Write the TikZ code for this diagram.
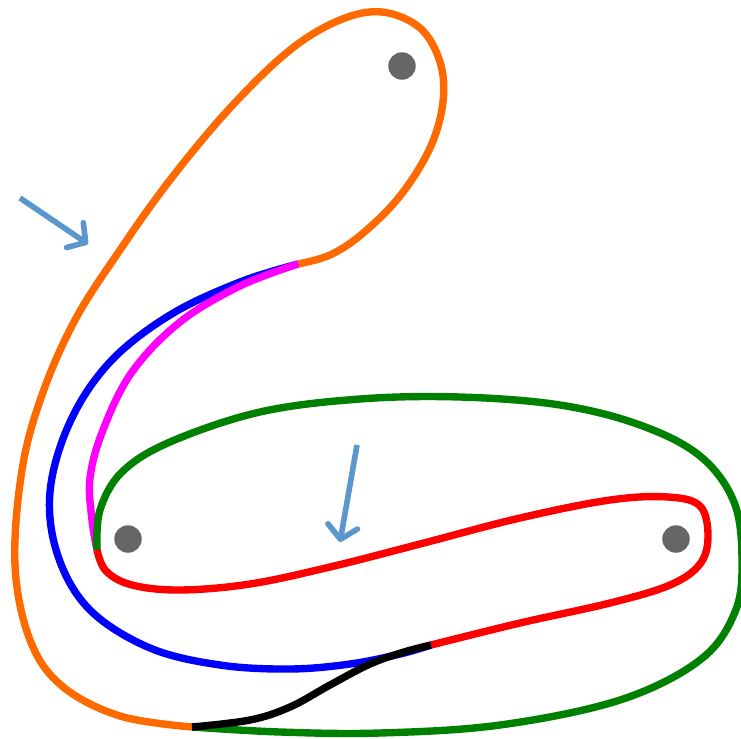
\documentclass[tikz,border=0pt]{standalone}
\usepackage{tikz}
\usetikzlibrary{arrows.meta}
\usepackage{xcolor}
\definecolor{LoopOrange}{HTML}{FF6A00}
\definecolor{LoopGreen}{HTML}{008000}
\definecolor{LoopBlue}{HTML}{0000FF}
\definecolor{LoopMagenta}{HTML}{FF00FF}
\definecolor{LoopRed}{HTML}{FF0000}
\definecolor{DotGray}{HTML}{666666}
\definecolor{ArrowBlue}{HTML}{5B96CD}

\begin{document}
\begin{tikzpicture}[
	x=0.02cm, y=-0.02cm, % one unit is one pixel of the sketch
	% Style for the curves
	curve/.style={
		line width=4.2pt,
		line cap=butt
	},
	% Style for the gray punctures
	puncture/.style={
		circle,
		fill=DotGray,
		minimum size=5.5mm,
		inner sep=0pt
	},
	% Style for the hint arrows
	hint/.style={
		draw=ArrowBlue,
		line width=3.2pt,
		-{Straight Barb[length=2.6mm,width=6mm,line width=3.2pt,round]}
	}
	]
	\useasboundingbox (0,0) rectangle (741,738);
	
	% 1. Junctions where the curves meet
	\coordinate (jTop) at (298,264);
	\coordinate (jLeft) at (97,550);
	\coordinate (jMid) at (431,645);
	\coordinate (jLow) at (192,727);
	
	% Punctures
	\node[puncture] (dotTop) at (402,66) {};
	\node[puncture] (dotLeft) at (128,539) {};
	\node[puncture] (dotRight) at (676,539) {};
	
	% 2. Curves
	% Orange loop around the top puncture
	\draw[curve, LoopOrange] plot[smooth, tension=0.6] coordinates {
		(jLow) (120,716) (62,686) (30,640) (15,565) (22,470) (42,395) (75,320)
		(120,250) (170,180) (230,108) (290,50) (340,20) (382,12) (420,28)
		(440,62) (443,102) (430,148) (400,196) (362,234) (330,255) (jTop)};
	
	% Blue arc
	\draw[curve, LoopBlue] plot[smooth, tension=0.6] coordinates {
		(jTop) (240,282) (170,315) (110,362) (70,422) (50,492) (58,556)
		(90,610) (150,648) (220,665) (290,669) (350,664) (400,654) (jMid)};
	
	% Magenta arc
	\draw[curve, LoopMagenta] plot[smooth, tension=0.6] coordinates {
		(jTop) (240,286) (180,322) (132,372) (103,430) (90,478) (92,520) (jLeft)};
	
	% Green loop around the lower punctures
	\draw[curve, LoopGreen] plot[smooth, tension=0.6] coordinates {
		(jLeft) (100,510) (122,472) (170,442) (260,412) (360,399) (460,397)
		(560,405) (640,425) (700,456) (734,502) (742,560) (735,612) (700,660)
		(620,700) (500,725) (380,733) (280,732) (jLow)};
	
	% Red loop around the right puncture
	\draw[curve, LoopRed] plot[smooth, tension=0.6] coordinates {
		(jLeft) (106,571) (132,585) (180,590) (250,584) (330,567) (420,544)
		(520,518) (610,500) (668,497) (700,506) (708,536) (700,564) (670,585)
		(610,603) (520,623) (jMid)};
	
	% Black arc
	\draw[curve, black] plot[smooth, tension=0.6] coordinates {
		(jLow) (250,720) (290,707) (330,685) (370,664) (404,652) (jMid)};
	
	% 3. Hint arrows
	\coordinate (hintA) at (20,198);
	\coordinate (hintAend) at (88,244);
	\coordinate (hintB) at (357,445);
	\coordinate (hintBend) at (340,542);
	\draw[hint] (hintA) -- (hintAend);
	\draw[hint] (hintB) -- (hintBend);
	
\end{tikzpicture}
\end{document}
